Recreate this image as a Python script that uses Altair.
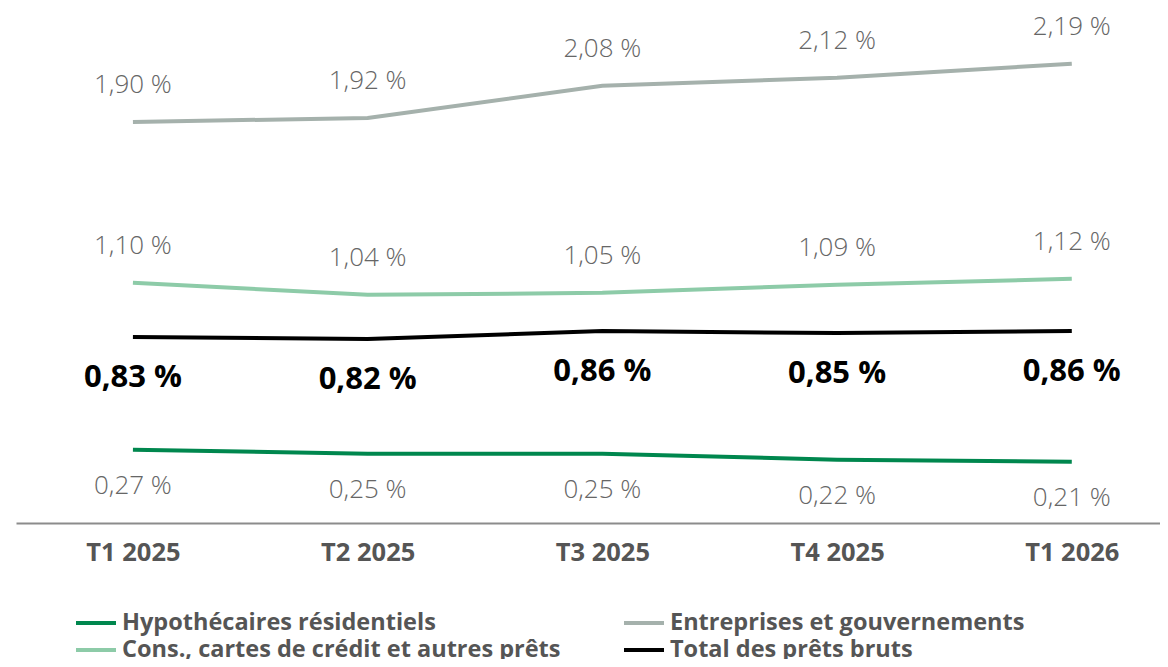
import altair as alt
import pandas as pd

quarters = ["T1 2025", "T2 2025", "T3 2025", "T4 2025", "T1 2026"]
hypo = [0.27, 0.25, 0.25, 0.22, 0.21]
entreprises = [1.90, 1.92, 2.08, 2.12, 2.19]
cons = [1.10, 1.04, 1.05, 1.09, 1.12]
total = [0.83, 0.82, 0.86, 0.85, 0.86]

# legend is laid out column by column: col 1 = first two, col 2 = last two
series_names = [
    "Hypothécaires résidentiels",
    "Cons., cartes de crédit et autres prêts",
    "Entreprises et gouvernements",
    "Total des prêts bruts",
]
series_values = [hypo, cons, entreprises, total]
series_colors = ["#00874E", "#8DCBA8", "#A5B1AC", "#000000"]

rows = []
for name, vals in zip(series_names, series_values):
    for q, v in zip(quarters, vals):
        rows.append({"q": q, "v": v, "s": name,
                     "lbl": f"{v:.2f}".replace(".", ",") + " %"})
df = pd.DataFrame(rows)

FONT = "Open Sans"

x = alt.X("q:N", sort=quarters, title=None,
          scale=alt.Scale(type="point", padding=0.437, align=0.57),
          axis=alt.Axis(labelAngle=0, ticks=False, grid=False, domain=True,
                        domainColor="#8C8C8C", domainWidth=2,
                        labelFont=FONT, labelFontSize=25.5, labelFontWeight="bold",
                        labelColor="#555555", labelPadding=17))
y = alt.Y("v:Q", axis=None, scale=alt.Scale(domain=[-0.095, 2.467], nice=False, zero=False))

base = alt.Chart(df)

lines = base.mark_line(strokeWidth=4).encode(
    x=x, y=y,
    color=alt.Color("s:N", sort=series_names,
                    scale=alt.Scale(domain=series_names, range=series_colors),
                    legend=alt.Legend(title=None, orient="none", legendX=58, legendY=602,
                                      columns=2, columnPadding=61, rowPadding=1,
                                      clipHeight=26,
                                      symbolType="stroke", symbolStrokeWidth=4,
                                      symbolSize=1600, labelFont=FONT, labelFontSize=23.5,
                                      labelFontWeight="bold", labelColor="#555555",
                                      labelLimit=600)),
)

above = base.transform_filter(
    alt.FieldOneOfPredicate(field="s", oneOf=[series_names[1], series_names[2]])
).mark_text(dy=-37, font=FONT, fontSize=26, fontWeight=300, color="#666666").encode(
    x=x, y=y, text="lbl:N")

below = base.transform_filter(
    alt.FieldEqualPredicate(field="s", equal=series_names[0])
).mark_text(dy=36, font=FONT, fontSize=26, fontWeight=300, color="#666666").encode(
    x=x, y=y, text="lbl:N")

bold = base.transform_filter(
    alt.FieldEqualPredicate(field="s", equal=series_names[3])
).mark_text(dy=41, font=FONT, fontSize=31, fontWeight="bold", color="#000000").encode(
    x=x, y=y, text="lbl:N")

chart = alt.layer(lines, above, below, bold).properties(
    width=1144, height=515,
    autosize=alt.AutoSizeParams(type="none"),
    padding={"left": 8, "top": 0, "right": 0, "bottom": 136},
).configure_view(stroke=None)

chart.save("out.html", embed_options={"renderer": "svg", "actions": False})
